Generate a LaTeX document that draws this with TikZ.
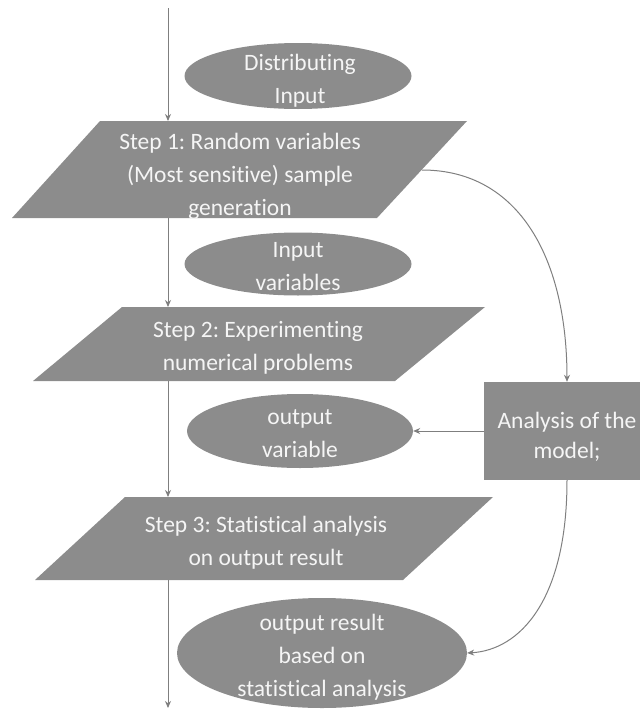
\documentclass[tikz,border=0pt]{standalone}
\usepackage{fontspec}
\setmainfont{Carlito}[Ligatures={NoCommon}]
\usetikzlibrary{shapes.geometric,arrows.meta}
\definecolor{shapegray}{HTML}{8C8C8C}
\definecolor{linegray}{HTML}{7F7F7F}
\definecolor{txtwhite}{HTML}{F5F5F5}
\frenchspacing
\begin{document}
\begin{tikzpicture}[x=1pt,y=-1pt,
  txt/.style={text=txtwhite,align=center,font=\fontsize{23.5}{33}\selectfont,inner sep=0pt},
  oval/.style={ellipse,fill=shapegray,inner sep=0pt},
  para/.style={fill=shapegray},
  conn/.style={draw=linegray,line width=1pt,-{Stealth[length=7pt,width=6pt]}}]
\useasboundingbox (0,0) rectangle (640,726);
% parallelograms
\fill[para] (100,121) -- (467,121) -- (377,218) -- (12,218) -- cycle;
\fill[para] (122,307) -- (485,307) -- (395,381) -- (33,381) -- cycle;
\fill[para] (125,497) -- (493,497) -- (403,580) -- (35,580) -- cycle;
\node[txt] (s1) at (240,176) {Step 1: Random variables\\(Most sensitive) sample\\generation};
\node[txt] (s2) at (258,348) {Step 2: Experimenting\\numerical problems};
\node[txt] (s3) at (266,543) {Step 3: Statistical analysis\\on output result};
% ellipses
\node[oval,minimum width=227pt,minimum height=66pt] (e1) at (298,76) {};
\node[txt] (e1t) at (300,81) {Distributing\\Input};
\node[oval,minimum width=227pt,minimum height=63pt] (e2) at (298,264) {};
\node[txt] (e2t) at (298,267) {Input\\variables};
\node[oval,minimum width=226pt,minimum height=74pt] (e3) at (300,431) {};
\node[txt] (e3t) at (300,434) {output\\variable};
\node[oval,minimum width=290pt,minimum height=110pt] (e4) at (322,653) {};
\node[txt] (e4t) at (322,657) {output result\\based on\\statistical analysis};
% analysis box
\node[fill=shapegray,minimum width=166pt,minimum height=98pt,inner sep=0pt] (an) at (567,431) {};
\node[txt,font=\fontsize{23.5}{30}\selectfont] (ant) at (567,437) {Analysis of the\\model;};
% main vertical line
\coordinate (top) at (168,8);
\coordinate (s1t) at (168,121);
\coordinate (s1b) at (168,218);
\coordinate (s2t) at (168,307);
\coordinate (s2b) at (168,381);
\coordinate (s3t) at (168,497);
\coordinate (s3b) at (168,580);
\coordinate (bot) at (168,708);
\coordinate (s1r) at (422,170);
\draw[conn] (top) -- (s1t);
\draw[conn] (s1b) -- (s2t);
\draw[conn] (s2b) -- (s3t);
\draw[conn] (s3b) -- (bot);
% side connectors
\draw[conn] (s1r) .. controls (520,170) and (567,260) .. (an.north);
\draw[conn] (an.west) -- (e3.east);
\draw[conn] (an.south) .. controls (567,600) and (520,650) .. (e4.east);
\end{tikzpicture}
\end{document}
